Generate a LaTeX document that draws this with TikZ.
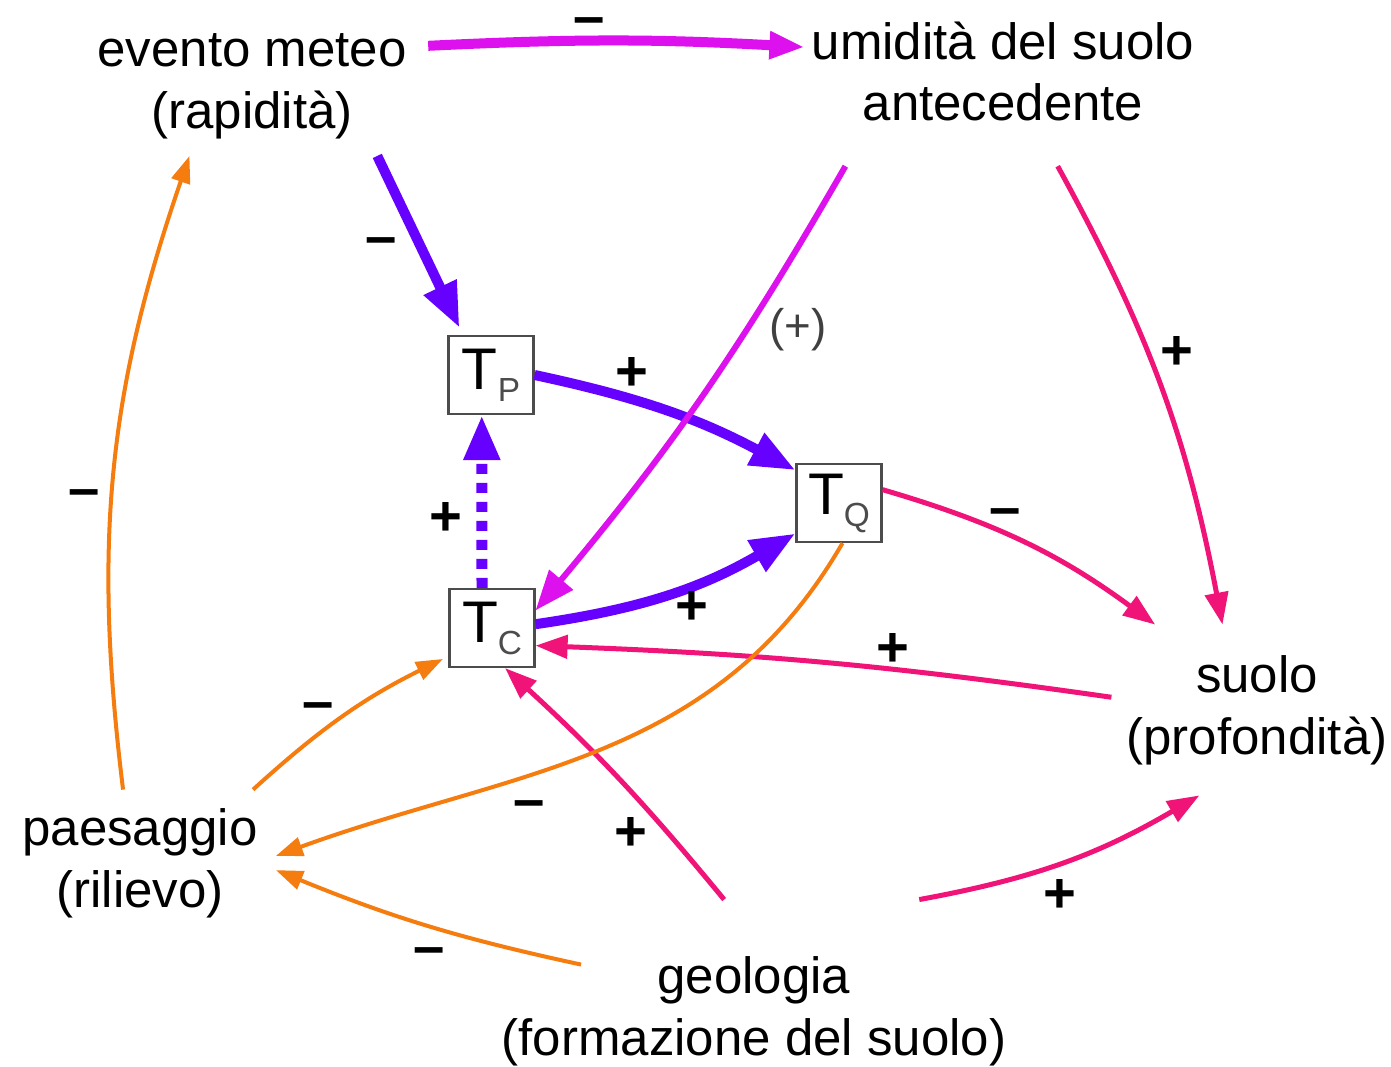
\documentclass[tikz,border=0pt]{standalone}
\usepackage{fontspec}
\setmainfont{Liberation Sans}
\usetikzlibrary{arrows.meta}

\definecolor{viol}{RGB}{102,0,255}
\definecolor{magen}{RGB}{221,17,238}
\definecolor{rose}{RGB}{240,20,120}
\definecolor{orng}{RGB}{245,125,15}

% T with a grey subscript, as in the boxes
\newcommand{\tsub}[1]{{\fontsize{16.7}{18}\selectfont T}\raisebox{-1.2mm}{\fontsize{9.5}{10}\selectfont\color{black!70}#1}}

\begin{document}
\begin{tikzpicture}[x=0.01cm, y=0.01cm,
  lbl/.style={align=center, font=\fontsize{14.5}{17.6}\selectfont},
  tbox/.style={draw=black!70, line width=0.6pt, fill=white, minimum width=8.5mm, minimum height=7.8mm, inner sep=0pt},
  sgn/.style={font=\fontsize{16}{16}\selectfont\bfseries, inner sep=0pt, text height=8.8pt, text depth=0pt},
  parsgn/.style={font=\fontsize{13}{13}\selectfont, text=black!75, inner sep=0pt},
  flow/.style={draw=viol, line width=1mm, -{Triangle[length=4.5mm,width=3.4mm]}},
  wet/.style={draw=magen, line width=0.6mm, -{Triangle[length=4mm,width=3mm]}},
  soil/.style={draw=rose, line width=0.5mm, -{Triangle[length=3.2mm,width=2.3mm]}},
  relief/.style={draw=orng, line width=0.4mm, -{Triangle[length=2.7mm,width=1.9mm]}}]
  \useasboundingbox (0,0) rectangle (1391,-1067);

  % text nodes
  \node[lbl, inner xsep=2.1mm, inner ysep=1.6mm] (evento) at (252,-86.5) {evento meteo\\(rapidità)};
  \node[lbl, inner xsep=.65mm, inner ysep=4.4mm] (umidita) at (1003,-71.5) {umidità del suolo\\antecedente};
  \node[lbl, inner xsep=1.45mm, inner ysep=3mm] (suolo) at (1257,-710) {suolo\\(profondità)};
  \node[lbl, inner xsep=1.75mm, inner ysep=1.8mm] (paesaggio) at (140,-863) {paesaggio\\(rilievo)};
  \node[lbl, inner xsep=.5mm, inner ysep=5.6mm] (geologia) at (754,-1011) {geologia\\(formazione del suolo)};

  % time boxes
  \node[tbox] (tp) at (491,-375) {\tsub{P}};
  \node[tbox] (tq) at (839,-503) {\tsub{Q}};
  \node[tbox] (tc) at (492,-628) {\tsub{C}};

  % violet
  \draw[flow, shorten >=.8mm] (evento.-29) -- node[sgn, pos=.47, left=1.6mm] {--} (tp.125);
  \draw[flow] (tp.east) to[bend left=8] node[sgn, pos=.35, above=.4mm] {+} (tq.143);
  \draw[flow] (tc.5) to[bend right=11] node[sgn, pos=.59, below=.3mm] {+} (tq.-145);
  \draw[flow, line width=1.1mm, dash pattern=on 1mm off .9mm] (tc.104) -- node[sgn, pos=.39, left=1.4mm] {+} (tp.-103);

  % magenta
  \draw[wet, line width=1mm, -{Triangle[length=3.5mm,width=2.6mm]}] (evento.13) to[bend left=3] node[sgn, pos=.42, above=0pt] {--} (umidita.173);
  \draw[wet] (umidita.-149) to[bend left=5] node[parsgn, pos=.34, right=2mm] {(+)} (tc.22);

  % pink
  \draw[soil] (umidita.-60) to[bend left=9] node[sgn, pos=.42, right=1mm] {+} (suolo.112);
  \draw[soil] (tq.17) to[bend left=10] node[sgn, pos=.42, above=.5mm] {--} (suolo.140);
  \draw[soil] (suolo.175) to[bend right=3] node[sgn, pos=.37, above=0pt] {+} (tc.-22);
  \draw[soil] (geologia.105) to[bend right=4] node[sgn, pos=.25, left=2mm] {+} (tc.-72);
  \draw[soil] (geologia.34) to[bend right=10] node[sgn, pos=.48, below=1.5mm] {+} (suolo.-124);

  % orange
  \draw[relief] (tq.-85) to[out=-120, in=20] node[sgn, pos=.62, below=1mm] {--} (paesaggio.3);
  \draw[relief, shorten >=.6mm] (paesaggio.33) to[bend left=8] node[sgn, pos=.35, above=1.2mm] {--} (tc.-147);
  \draw[relief] (paesaggio.103) to[bend left=13] node[sgn, pos=.46, left=1mm] {--} (evento.-132);
  \draw[relief] ([shift={(85,-65)}]geologia.north west) to[bend left=5] node[sgn, pos=.49, below=.7mm] {--} (paesaggio.-3);
\end{tikzpicture}
\end{document}
